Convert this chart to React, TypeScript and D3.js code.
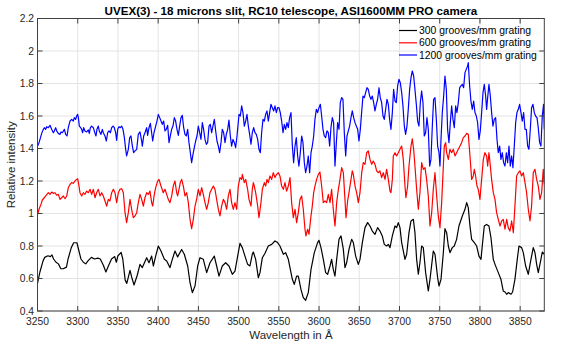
import React from "react";
import * as d3 from "d3";

const xTicks = [3250, 3300, 3350, 3400, 3450, 3500, 3550, 3600, 3650, 3700, 3750, 3800, 3850];
const yTicks = [0.4, 0.6, 0.8, 1.0, 1.2, 1.4, 1.6, 1.8, 2.0, 2.2];
const yTickLabels = ["0.4", "0.6", "0.8", "1", "1.2", "1.4", "1.6", "1.8", "2", "2.2"];
const xDomain = [3250, 3880];
const yDomain = [0.4, 2.2];

const titleText = "UVEX(3) - 18 microns slit, RC10 telescope, ASI1600MM PRO camera";
const xLabel = "Wavelength in Å";
const yLabel = "Relative intensity";
const seriesNames = ["300 grooves/mm grating", "600 grooves/mm grating", "1200 grooves/mm grating"];

const grating300: [number, number][] = [
  [3250,0.57],[3253,0.64],[3257,0.71],[3259,0.73],[3263,0.74],[3266,0.735],[3268,0.745],[3270,0.72],[3273,0.70],[3276,0.69],[3279,0.66],[3282,0.66],[3286,0.67],[3288,0.72],[3292,0.79],[3295,0.82],[3299,0.82],[3301,0.78],[3304,0.72],[3307,0.70],[3310,0.69],[3313,0.71],[3317,0.73],[3321,0.72],[3325,0.725],[3328,0.72],[3330,0.70],[3332,0.68],[3335,0.64],[3338,0.675],[3342,0.72],[3346,0.735],[3348,0.70],[3350,0.74],[3354,0.76],[3356,0.72],[3359,0.59],[3361,0.57],[3363,0.61],[3365,0.65],[3367,0.61],[3370,0.56],
  [3374,0.62],[3377.4,0.687],[3380.3,0.667],[3385.7,0.728],[3388.6,0.697],[3391.9,0.738],[3394,0.677],[3396.9,0.738],[3400.2,0.80],[3403.5,0.769],[3407.7,0.718],[3410.6,0.708],[3414.7,0.667],[3417.6,0.718],[3420.9,0.769],[3424.2,0.733],[3429.2,0.779],[3432.5,0.749],[3436.7,0.677],[3439.6,0.574],[3442.5,0.513],[3445.8,0.554],[3449.1,0.677],[3452,0.728],[3456.1,0.718],[3460.3,0.636],[3464.4,0.697],[3469.8,0.738],[3472.7,0.677],[3475.6,0.615],[3479.7,0.677],[3483.9,0.697],[3488,0.677],[3492.2,0.626],[3495.5,0.646],
  [3498.8,0.738],[3501.7,0.816],[3504.6,0.79],[3507.9,0.738],[3511.2,0.687],[3514.1,0.677],[3517,0.749],[3518.3,0.763],[3521.2,0.718],[3524.5,0.605],[3526.6,0.636],[3529.5,0.728],[3532.8,0.755],[3536.9,0.80],[3541.1,0.81],[3545.2,0.831],[3548.5,0.821],[3551.4,0.80],[3555.6,0.749],[3558.5,0.759],[3561.8,0.718],[3565.1,0.636],[3566.8,0.595],[3569.2,0.564],[3572.1,0.615],[3574.2,0.615],[3577.5,0.533],[3580.4,0.482],[3583.3,0.466],[3586.6,0.513],[3590,0.656],[3594.1,0.759],[3598.2,0.821],[3599.9,0.835],[3602.4,0.79],[3605.3,0.718],[3608.2,0.636],[3610.7,0.626],[3613.6,0.677],[3615.6,0.718],[3617.7,0.656],[3619.8,0.615],
  [3621.9,0.718],[3624.8,0.841],[3627.3,0.862],[3630.2,0.779],[3632.2,0.667],[3634.3,0.697],[3637.2,0.779],[3640.5,0.841],[3642.6,0.821],[3645.5,0.738],[3648.8,0.687],[3650.9,0.718],[3653.8,0.821],[3657.1,0.913],[3660.4,0.944],[3663.3,0.923],[3666.2,0.892],[3669.5,0.872],[3672.8,0.913],[3675.7,0.892],[3678.6,0.862],[3681.1,0.81],[3684,0.80],[3686.1,0.81],[3688.2,0.79],[3691.1,0.862],[3694.4,0.923],[3696.4,0.913],[3698.5,0.944],[3700.6,0.913],[3702.7,0.821],[3706.8,0.718],[3708.9,0.749],[3711.8,0.882],[3714.3,0.954],[3717.2,0.964],[3719.2,0.882],[3721.3,0.718],[3723.4,0.626],[3725.4,0.697],[3727.5,0.80],[3729.6,0.79],[3732.5,0.636],[3735.8,0.523],[3737.9,0.595],[3742,0.769],[3744.1,0.749],
  [3747.4,0.605],[3749.1,0.554],[3751.6,0.595],[3754.5,0.759],[3756.5,0.907],[3758.6,0.882],[3760.7,0.80],[3762.7,0.759],[3765.6,0.79],[3768.1,0.80],[3771,0.841],[3773.9,0.923],[3778.1,0.985],[3781.4,1.026],[3783.5,1.067],[3785.5,1.036],[3787.6,0.923],[3789.7,0.841],[3793,0.821],[3795.9,0.80],[3798.8,0.738],[3801.3,0.718],[3803.3,0.821],[3805.4,0.923],[3808.3,0.933],[3811.2,0.923],[3813.7,0.851],[3816.6,0.718],[3818.7,0.687],[3822.8,0.636],[3826.1,0.595],[3829,0.523],[3831.1,0.517],[3833.2,0.503],[3835.2,0.513],[3838.6,0.503],[3840.6,0.517],[3843.5,0.595],[3846.4,0.718],[3848.5,0.80],[3851.8,0.79],[3853.9,0.759],[3856.8,0.677],[3860.1,0.626],[3863.4,0.718],[3866.3,0.79],[3868.4,0.759],[3870.5,0.687],[3872.5,0.636],[3875.8,0.718],[3877.5,0.763],[3880,0.749]
];

const grating600: [number, number][] = [
  [3250.2,0.995],[3251.9,1.026],[3254.3,1.056],[3256,1.083],[3258.5,1.097],[3260.2,1.108],[3263.5,1.128],[3265.5,1.118],[3267.6,1.132],[3269.7,1.124],[3271.8,1.128],[3273.8,1.112],[3275.9,1.118],[3278,1.087],[3280,1.097],[3282.1,1.108],[3284.2,1.091],[3286.3,1.108],[3288.3,1.159],[3290.4,1.179],[3292.5,1.19],[3294.5,1.186],[3296.6,1.2],[3298.7,1.21],[3299.9,1.214],[3301.6,1.169],[3302.8,1.128],[3304.9,1.108],[3307,1.128],[3309,1.118],[3311.1,1.138],[3313.2,1.128],[3315.3,1.149],[3317.3,1.118],[3319.4,1.149],[3321.5,1.097],[3323.5,1.128],[3325.6,1.149],[3327.7,1.108],[3329.8,1.128],[3331.8,1.108],[3333.9,1.077],[3336,1.046],[3338,1.087],[3340.1,1.077],[3342.2,1.128],[3344.3,1.149],[3346.3,1.128],[3348.4,1.067],[3350.5,1.128],[3352.5,1.149],[3354.6,1.153],[3356.7,1.128],[3358.8,1.005],[3360.8,0.944],[3362.9,1.005],[3365,1.087],[3367,1.026],[3369.1,0.974],
  [3371.2,0.985],[3373.3,1.005],[3375.3,1.067],[3377.4,1.118],[3379.5,1.087],[3381.6,1.046],[3383.6,1.097],[3385.7,1.128],[3387.8,1.118],[3389.8,1.138],[3391.9,1.067],[3393.2,1.046],[3395.2,1.118],[3396.9,1.159],[3399.4,1.2],[3401,1.21],[3403.5,1.169],[3406.4,1.128],[3408.5,1.149],[3410.6,1.118],[3412.6,1.087],[3414.7,1.067],[3416.8,1.108],[3418.8,1.169],[3420.9,1.2],[3423,1.128],[3424.2,1.108],[3425.9,1.149],[3427.5,1.19],[3429.2,1.21],[3431.3,1.169],[3433.3,1.108],[3435.4,1.128],[3437.5,1.067],[3439.6,0.964],[3441.6,0.907],[3443.7,0.964],[3445.8,1.046],[3447.8,1.087],[3449.9,1.149],[3452,1.108],[3454.1,1.159],[3456.1,1.118],[3458.2,1.067],[3460.3,1.026],[3462.3,1.067],[3464.4,1.128],[3466.5,1.149],[3468.6,1.169],[3470.6,1.149],[3472.7,1.087],[3474.8,1.026],[3476.8,0.985],[3478.9,1.046],[3481,1.087],[3483.1,1.067],[3485.1,1.026],[3487.2,1.108],[3489.3,1.149],[3491.3,1.067],[3493.4,1.026],[3495.5,1.067],
  [3497.6,1.026],[3499.6,1.169],[3501.7,1.221],[3503.8,1.21],[3504.6,1.241],[3507.1,1.19],[3508.8,1.21],[3511.2,1.149],[3512.9,1.087],[3515.4,1.046],[3517,1.149],[3518.3,1.19],[3519.5,1.169],[3521.2,1.128],[3523.7,1.046],[3525.3,0.974],[3527.8,1.067],[3529.5,1.149],[3532,1.19],[3533.6,1.169],[3535.3,1.21],[3536.9,1.19],[3539,1.231],[3541.1,1.21],[3543.1,1.251],[3545.2,1.221],[3547.3,1.241],[3549.4,1.251],[3551.4,1.231],[3553.5,1.169],[3555.6,1.149],[3557.6,1.19],[3559.7,1.138],[3561.8,1.169],[3563.9,1.221],[3565.9,1.067],[3568,0.974],[3570.1,1.026],[3572.1,0.944],[3574.2,1.005],[3576.3,1.087],[3578.4,1.108],[3580.4,1.026],[3582.5,0.903],[3583.7,0.862],[3585.8,0.903],[3587.5,0.872],[3590,0.985],[3591.6,1.046],[3593.3,1.128],[3594.9,1.169],[3597,1.21],[3599.1,1.241],[3601.1,1.255],[3603.2,1.169],[3605.3,1.067],[3607.4,1.077],[3609.4,1.067],[3611.5,1.118],[3613.6,1.067],[3615.6,1.149],[3617.7,1.026],[3619.8,0.923],
  [3621.9,1.067],[3624,1.149],[3626,1.21],[3628.1,1.282],[3630.2,1.251],[3632.2,1.087],[3633.5,0.974],[3635.5,1.077],[3637.2,1.128],[3639.7,1.21],[3641.3,1.262],[3642.6,1.241],[3644.7,1.169],[3646.7,1.128],[3648.8,1.067],[3650.9,1.128],[3653,1.251],[3655,1.313],[3657.1,1.303],[3659.2,1.374],[3661.2,1.385],[3663.3,1.333],[3665.4,1.303],[3667.4,1.323],[3669.5,1.303],[3671.6,1.262],[3673.7,1.251],[3675.7,1.262],[3677.8,1.221],[3679.9,1.251],[3682,1.21],[3684,1.272],[3686.1,1.21],[3688.2,1.138],[3689.4,1.128],[3691.1,1.21],[3692.3,1.354],[3694.4,1.374],[3696.4,1.354],[3698.5,1.374],[3700.6,1.395],[3702.7,1.415],[3704.7,1.333],[3706.8,1.169],[3708,1.097],[3710.1,1.169],[3711.8,1.292],[3714.3,1.415],[3715.9,1.46],[3717.6,1.395],[3719.2,1.292],[3721.3,1.149],[3723.4,1.026],[3725.4,1.128],[3727.5,1.313],[3729.6,1.272],[3731.7,1.282],[3733.7,1.21],[3735.8,1.108],[3737.9,0.923],[3740,1.005],[3742,1.149],[3744.1,1.251],
  [3746.2,1.108],[3748.2,0.985],[3750.3,0.913],[3752.4,1.067],[3754.5,1.292],[3755.7,1.415],[3757.4,1.436],[3758.6,1.374],[3760.7,1.333],[3762.7,1.395],[3764.8,1.374],[3766.9,1.395],[3769,1.354],[3771,1.374],[3773.1,1.395],[3775.2,1.415],[3777.2,1.436],[3779.3,1.467],[3781.4,1.477],[3783.5,1.493],[3785.5,1.487],[3787.6,1.354],[3789.7,1.21],[3791.7,1.231],[3793,1.272],[3794.6,1.231],[3796.3,1.169],[3797.9,1.149],[3800,1.087],[3802.1,1.21],[3804.2,1.333],[3806.2,1.374],[3808.3,1.354],[3809.6,1.292],[3811.2,1.374],[3812.5,1.313],[3814.5,1.21],[3816.6,1.128],[3818.7,1.087],[3820.7,1.005],[3822.8,0.964],[3824.9,0.923],[3827,0.954],[3829,0.964],[3831.1,0.903],[3833.2,0.964],[3835.2,0.913],[3837.3,0.892],[3839.4,0.954],[3841.5,0.882],[3843.5,1.046],[3845.6,1.231],[3847.7,1.251],[3849.7,1.262],[3851.8,1.231],[3853.9,1.251],[3856,1.19],[3858,1.128],[3860.1,1.026],[3862.2,0.954],[3864.2,1.046],[3866.3,1.251],[3868.4,1.272],[3870.5,1.21],[3872.5,1.169],[3874.6,1.087],[3876.7,1.128],[3878.7,1.272],[3880,1.179]
];

const grating1200: [number, number][] = [
  [3250.2,1.415],[3251.9,1.436],[3253.1,1.456],[3255.2,1.493],[3257.3,1.518],[3258.5,1.528],[3260.2,1.518],[3261.4,1.534],[3263.5,1.528],[3265.5,1.543],[3267.6,1.518],[3269.7,1.497],[3270.9,1.508],[3272.6,1.528],[3273.8,1.508],[3275.9,1.493],[3278,1.487],[3279.2,1.502],[3280.9,1.497],[3283.4,1.518],[3285,1.487],[3286.7,1.477],[3288.3,1.528],[3290.4,1.569],[3292.5,1.579],[3294.5,1.569],[3295.8,1.59],[3297.4,1.579],[3298.7,1.6],[3299.9,1.61],[3300.8,1.59],[3302,1.538],[3303.7,1.528],[3304.9,1.518],[3306.1,1.497],[3307.4,1.528],[3309,1.508],[3311.1,1.502],[3313.2,1.514],[3314.4,1.493],[3315.7,1.528],[3317.3,1.538],[3319.4,1.528],[3321.5,1.493],[3322.7,1.477],[3323.9,1.518],[3325.6,1.538],[3326.8,1.508],[3328.9,1.487],[3330.6,1.518],[3331.8,1.497],[3333.9,1.477],[3335.6,1.446],[3337.2,1.497],[3338.9,1.508],[3340.6,1.497],[3342.2,1.528],[3343.9,1.538],[3345.5,1.528],[3347.2,1.497],[3348.4,1.45],[3349.7,1.518],[3351.3,1.534],[3353,1.528],[3354.6,1.538],[3356.3,1.518],[3358,1.467],[3359.6,1.395],[3360.8,1.354],[3362.9,1.395],[3364.6,1.467],[3366.2,1.477],[3367.9,1.415],[3369.5,1.374],
  [3371.2,1.385],[3373.3,1.395],[3375.3,1.487],[3377.4,1.502],[3379.5,1.446],[3380.3,1.415],[3382,1.477],[3383.6,1.497],[3385.7,1.528],[3386.9,1.481],[3388.6,1.528],[3390.3,1.555],[3391.9,1.497],[3393.2,1.446],[3394.8,1.497],[3396.9,1.538],[3398.5,1.569],[3400.2,1.61],[3401.9,1.59],[3403.5,1.569],[3405.2,1.549],[3406.8,1.569],[3408.5,1.508],[3410.1,1.518],[3411.8,1.543],[3413.5,1.436],[3415.1,1.477],[3416.8,1.518],[3418.4,1.538],[3420.1,1.59],[3421.7,1.569],[3423.4,1.518],[3425.1,1.481],[3426.7,1.538],[3428.4,1.59],[3430,1.604],[3431.7,1.528],[3433.3,1.487],[3435,1.477],[3436.7,1.518],[3438.3,1.436],[3440,1.374],[3441.6,1.313],[3443.3,1.364],[3444.9,1.405],[3446.6,1.446],[3448.3,1.477],[3449.9,1.538],[3451.6,1.497],[3453.2,1.456],[3454.9,1.559],[3456.5,1.518],[3458.2,1.456],[3459.9,1.426],[3461.5,1.436],[3463.2,1.538],[3464.8,1.549],[3466.5,1.497],[3468.1,1.538],[3469.8,1.579],[3471.5,1.508],[3473.1,1.446],[3474.8,1.415],[3476.4,1.374],[3478.1,1.436],[3479.7,1.518],[3481.4,1.497],[3483.1,1.436],[3484.7,1.487],[3486.4,1.518],[3488,1.575],[3489.7,1.477],[3491.3,1.415],[3493,1.456],[3494.7,1.436],
  [3496.3,1.405],[3498,1.477],[3500.5,1.61],[3502.1,1.6],[3503.8,1.662],[3505.4,1.621],[3507.1,1.538],[3508.8,1.569],[3510.4,1.61],[3512.1,1.538],[3513.7,1.487],[3515.4,1.426],[3517,1.497],[3518.7,1.528],[3520.4,1.497],[3522,1.487],[3523.7,1.456],[3525.3,1.395],[3527,1.374],[3528.6,1.497],[3530.3,1.579],[3532,1.569],[3533.6,1.61],[3535.3,1.631],[3536.9,1.569],[3538.6,1.621],[3540.2,1.672],[3541.9,1.651],[3543.6,1.631],[3545.2,1.662],[3546.9,1.621],[3548.5,1.651],[3550.2,1.651],[3551.8,1.621],[3553.5,1.569],[3555.2,1.497],[3556.8,1.549],[3558.5,1.518],[3560.1,1.559],[3561.8,1.528],[3563.4,1.59],[3565.1,1.621],[3566.8,1.415],[3568.4,1.313],[3570.1,1.415],[3571.7,1.467],[3573.4,1.354],[3575,1.292],[3576.7,1.374],[3578.4,1.477],[3580,1.436],[3581.7,1.313],[3583.3,1.251],[3585,1.292],[3586.6,1.354],[3588.3,1.251],[3590,1.374],[3591.6,1.415],[3593.3,1.477],[3594.9,1.579],[3596.6,1.641],[3598.2,1.621],[3599.9,1.651],[3601.6,1.672],[3603.2,1.6],[3604.9,1.518],[3606.5,1.477],[3608.2,1.467],[3609.8,1.508],[3611.5,1.497],[3613.2,1.415],[3614.8,1.528],[3616.5,1.59],[3618.1,1.559],[3619.8,1.292],
  [3621.5,1.436],[3623.1,1.559],[3624.8,1.518],[3626.4,1.682],[3628.1,1.713],[3629.7,1.703],[3631.4,1.497],[3633.1,1.354],[3634.7,1.477],[3636.4,1.508],[3638,1.538],[3639.7,1.59],[3641.3,1.631],[3643,1.59],[3644.7,1.559],[3646.3,1.538],[3648,1.518],[3649.6,1.446],[3651.3,1.518],[3652.9,1.621],[3654.6,1.723],[3656.3,1.713],[3657.9,1.744],[3659.6,1.774],[3661.2,1.764],[3662.9,1.723],[3664.5,1.703],[3666.2,1.723],[3667.9,1.682],[3669.5,1.631],[3671.2,1.672],[3672.8,1.703],[3674.5,1.774],[3676.1,1.713],[3677.8,1.682],[3679.5,1.6],[3681.1,1.579],[3682.8,1.641],[3684.4,1.703],[3686.1,1.672],[3687.7,1.579],[3689.4,1.518],[3691.1,1.621],[3692.7,1.764],[3694.4,1.692],[3696,1.682],[3697.7,1.785],[3699.3,1.826],[3701,1.805],[3702.7,1.744],[3704.3,1.662],[3706,1.538],[3707.6,1.487],[3709.3,1.538],[3710.9,1.641],[3712.6,1.764],[3714.3,1.836],[3715.9,1.877],[3717.6,1.846],[3719.2,1.764],[3720.9,1.672],[3722.5,1.569],[3724.2,1.538],[3725.9,1.682],[3727.5,1.754],[3729.2,1.682],[3730.8,1.477],[3732.5,1.497],[3734.1,1.59],[3735.8,1.518],[3737.5,1.292],[3739.1,1.333],[3740.8,1.538],[3742.4,1.703],[3744.1,1.713],
  [3745.8,1.579],[3747.4,1.415],[3749.1,1.374],[3750.3,1.292],[3751.6,1.456],[3753.2,1.621],[3754.9,1.723],[3756.5,1.846],[3758.2,1.764],[3759.8,1.518],[3761.5,1.436],[3763.2,1.559],[3764.8,1.662],[3766.5,1.579],[3768.1,1.528],[3769.8,1.662],[3771.4,1.621],[3773.1,1.682],[3774.8,1.774],[3776.4,1.785],[3778.1,1.795],[3779.7,1.774],[3781.4,1.867],[3783,1.887],[3784.7,1.908],[3785.5,1.928],[3787.2,1.785],[3788.8,1.692],[3790.5,1.641],[3792.2,1.692],[3793.8,1.621],[3795.5,1.6],[3797.1,1.559],[3798.8,1.456],[3800.4,1.508],[3802.1,1.621],[3803.8,1.744],[3805.4,1.795],[3807.1,1.723],[3808.3,1.641],[3809.6,1.713],[3811.2,1.795],[3812.9,1.723],[3814.5,1.621],[3816.2,1.538],[3817.8,1.579],[3819.5,1.59],[3821.2,1.456],[3822.8,1.374],[3824.5,1.415],[3826.1,1.333],[3827.8,1.374],[3829.4,1.313],[3831.1,1.292],[3832.8,1.374],[3834.4,1.313],[3836.1,1.415],[3837.7,1.292],[3839.4,1.354],[3841,1.282],[3842.7,1.415],[3844.4,1.559],[3846,1.621],[3847.7,1.641],[3849.3,1.672],[3851,1.621],[3852.6,1.569],[3854.3,1.621],[3856,1.518],[3857.6,1.518],[3859.3,1.415],[3860.9,1.395],[3862.6,1.518],[3864.2,1.651],[3865.9,1.672],[3867.6,1.621],[3869.2,1.6],[3870.9,1.59],[3872.5,1.528],[3874.2,1.436],[3875.8,1.415],[3877.5,1.6],[3879.1,1.672],[3880,1.518]
];

const seriesData = [grating300, grating600, grating1200];
const seriesColors = ["#000000", "#ff0000", "#0000ff"];

const FONT = "'Liberation Sans', Arial, Helvetica, sans-serif";

export default function App() {
  const W = 570;
  const H = 343;
  const left = 37.5, right = 544.3, top = 18.5, bottom = 311;
  const x = d3.scaleLinear().domain(xDomain).range([left, right]);
  const y = d3.scaleLinear().domain(yDomain).range([bottom, top]);
  const line = d3.line<[number, number]>().x(d => x(d[0])).y(d => y(d[1]));
  const axisColor = "#404040";
  const tickLen = 5;
  const legendX = 399, legendLineLen = 18;
  const legendYs = [30.5, 42.8, 55];

  return (
    <svg width={W} height={H} style={{ position: "fixed", left: 0, top: 0, background: "#fff" }} fontFamily={FONT}>
      <rect x={0} y={0} width={W} height={H} fill="#fff" />
      <defs>
        <clipPath id="plotClip">
          <rect x={left} y={top} width={right - left} height={bottom - top} />
        </clipPath>
      </defs>
      <g stroke="#e3e3e3" strokeWidth={1}>
        {xTicks.map(t => (
          <line key={"gx" + t} x1={x(t)} x2={x(t)} y1={top} y2={bottom} />
        ))}
        {yTicks.map(t => (
          <line key={"gy" + t} x1={left} x2={right} y1={y(t)} y2={y(t)} />
        ))}
      </g>
      <g clipPath="url(#plotClip)" fill="none" strokeWidth={1.2} strokeLinejoin="round">
        {seriesData.map((s, i) => (
          <path key={i} d={line(s) || ""} stroke={seriesColors[i]} />
        ))}
      </g>
      <rect x={left} y={top} width={right - left} height={bottom - top} fill="none" stroke={axisColor} strokeWidth={1} />
      <g stroke={axisColor} strokeWidth={1}>
        {xTicks.map(t => (
          <g key={"tx" + t}>
            <line x1={x(t)} x2={x(t)} y1={bottom} y2={bottom - tickLen} />
            <line x1={x(t)} x2={x(t)} y1={top} y2={top + tickLen} />
          </g>
        ))}
        {yTicks.map(t => (
          <g key={"ty" + t}>
            <line x1={left} x2={left + tickLen} y1={y(t)} y2={y(t)} />
            <line x1={right} x2={right - tickLen} y1={y(t)} y2={y(t)} />
          </g>
        ))}
      </g>
      <g fontSize={10.3} fill="#262626">
        {xTicks.map(t => (
          <text key={"lx" + t} x={x(t)} y={324.5} textAnchor="middle">{t}</text>
        ))}
        {yTicks.map((t, i) => (
          <text key={"ly" + t} x={34} y={y(t)} dy="0.35em" textAnchor="end">{yTickLabels[i]}</text>
        ))}
      </g>
      <text x={(left + right) / 2} y={338.5} textAnchor="middle" fontSize={11.5} fill="#262626">{xLabel}</text>
      <text transform={`translate(15,${(top + bottom) / 2}) rotate(-90)`} textAnchor="middle" fontSize={11.5} fill="#262626">{yLabel}</text>
      <text x={(left + right) / 2} y={14.5} textAnchor="middle" fontSize={11.6} fontWeight="bold" fill="#000">{titleText}</text>
      <g>
        {seriesNames.map((n, i) => (
          <g key={n}>
            <line x1={legendX} x2={legendX + legendLineLen} y1={legendYs[i]} y2={legendYs[i]} stroke={seriesColors[i]} strokeWidth={1.2} />
            <text x={legendX + legendLineLen + 2} y={legendYs[i]} dy="0.35em" fontSize={10.4} fill="#000">{n}</text>
          </g>
        ))}
      </g>
    </svg>
  );
}
